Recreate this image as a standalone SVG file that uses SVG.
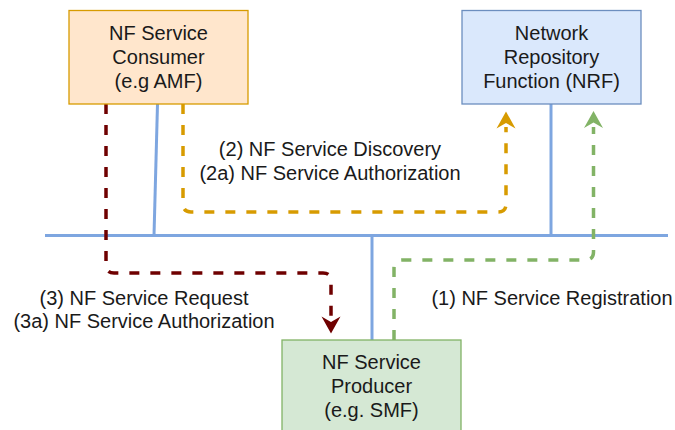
<svg xmlns="http://www.w3.org/2000/svg" width="675" height="430" viewBox="0 0 675 430">
<style>
text{font-family:"Liberation Sans",Arial,Helvetica,sans-serif;font-size:20px;fill:#1a1a1a;text-anchor:middle}
.bus{stroke:#7EA6E0;stroke-width:3;fill:none}
.flow{stroke-width:3.5;fill:none;stroke-dasharray:10 11}
.box{stroke-width:1.3}
</style>
<rect width="675" height="430" fill="#ffffff"/>
<g id="connectors">
<line class="bus" x1="45" y1="235.5" x2="668" y2="235.5"/>
<line class="bus" x1="157.5" y1="104" x2="154" y2="235.5"/>
<line class="bus" x1="551" y1="104" x2="551" y2="235.5"/>
<line class="bus" x1="372" y1="235.5" x2="372" y2="340"/>
<path class="flow" stroke="#D79B00" d="M183 104 V204 Q183 212 191 212 H498 Q506 212 506 204 V127"/>
<path fill="#D79B00" d="M506 111.5 L515.5 128.5 L506 123 L496.5 128.5 Z"/>
<path class="flow" stroke="#6F0000" d="M106 104 V265 Q106 273 114 273 H323 Q331 273 331 281 V318"/>
<path fill="#6F0000" d="M331 333.5 L340.5 316.5 L331 322 L321.5 316.5 Z"/>
<path class="flow" stroke="#82B366" d="M394 340 V268 Q394 260 402 260 H585 Q593.5 260 593.5 252 V127"/>
<path fill="#82B366" d="M593.5 111 L603 128 L593.5 122.5 L584 128 Z"/>
</g>
<g id="consumer">
<rect class="box" x="69" y="10.5" width="179" height="93.5" fill="#FFE6CC" stroke="#D79B00"/>
<text x="158.5" y="39.5">NF Service</text>
<text x="158.5" y="63.5">Consumer</text>
<text x="158.5" y="87.5">(e.g AMF)</text>
</g>
<g id="nrf">
<rect class="box" x="462" y="10.5" width="179" height="93.5" fill="#DAE8FC" stroke="#6C8EBF"/>
<text x="551.5" y="40">Network</text>
<text x="551.5" y="64">Repository</text>
<text x="551.5" y="88">Function (NRF)</text>
</g>
<g id="producer">
<rect class="box" x="282" y="340" width="179" height="93" fill="#D5E8D4" stroke="#82B366"/>
<text x="371.5" y="369">NF Service</text>
<text x="371.5" y="393">Producer</text>
<text x="371.5" y="417">(e.g. SMF)</text>
</g>
<g id="labels">
<text x="330" y="156">(2) NF Service Discovery</text>
<text x="330" y="179.5">(2a) NF Service Authorization</text>
<text x="144" y="305">(3) NF Service Request</text>
<text x="144" y="328">(3a) NF Service Authorization</text>
<text x="552" y="305">(1) NF Service Registration</text>
</g>
</svg>
